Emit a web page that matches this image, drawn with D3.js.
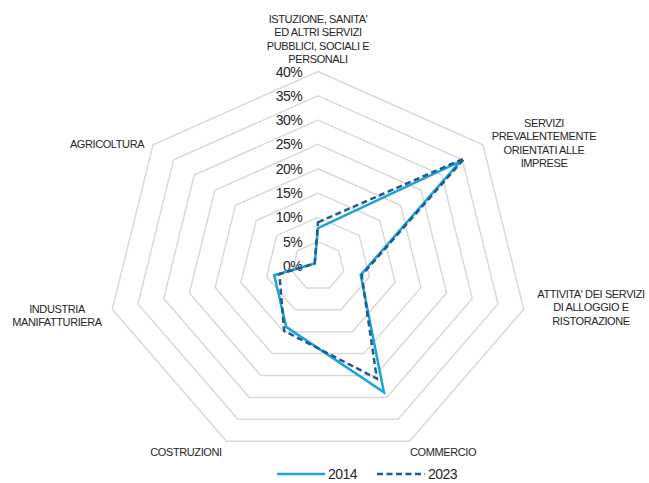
<!DOCTYPE html>
<html>
<head>
<meta charset="utf-8">
<script src="https://cdn.jsdelivr.net/npm/d3@7/dist/d3.min.js"></script>
<style>
  body { margin: 0; background: #fff; }
  svg text { font-family: "Liberation Sans", Arial, sans-serif; fill: #262626; }
</style>
</head>
<body>
<div id="chart"></div>
<script>
const categories = [
    ["ISTUZIONE, SANITA'", "ED ALTRI SERVIZI", "PUBBLICI, SOCIALI E", "PERSONALI"],
    ["SERVIZI", "PREVALENTEMENTE", "ORIENTATI ALLE", "IMPRESE"],
    ["ATTIVITA' DEI SERVIZI", "DI ALLOGGIO E", "RISTORAZIONE"],
    ["COMMERCIO"],
    ["COSTRUZIONI"],
    ["INDUSTRIA", "MANIFATTURIERA"],
    ["AGRICOLTURA"]
];
const values2014 = [7.8, 34.5, 8.3, 28.8, 13.9, 8.5, 0.8];
const values2023 = [9.0, 35.5, 8.5, 25.7, 14.8, 7.5, 0.8];
const ticks = [0, 5, 10, 15, 20, 25, 30, 35, 40];
const seriesNames = ["2014", "2023"];

const WIDTH = 649;
const HEIGHT = 483;
const CX = 318;
const CY = 266;
const RADIUS = 194.5;
const STRETCH_X = 1.085;

// label anchor points (centre of first line)
const labelPos = [
    [318, 19], [544, 123], [591, 294], [443, 452],
    [186, 452], [57, 309], [107, 144]
];

const svg = d3.select("#chart")
    .append("svg")
    .attr("width", WIDTH)
    .attr("height", HEIGHT);

const r = d3.scaleLinear().domain([0, 40]).range([0, RADIUS]);
const angle = d3.scaleLinear().domain([0, categories.length]).range([0, 2 * Math.PI]);

const px = (i, v) => CX + STRETCH_X * r(v) * Math.sin(angle(i));
const py = (i, v) => CY - r(v) * Math.cos(angle(i));

const idx = d3.range(categories.length);

// rings
const ring = d3.line()
    .x(d => px(d.i, d.v))
    .y(d => py(d.i, d.v))
    .curve(d3.curveLinearClosed);

svg.selectAll("path.ring")
    .data(ticks.slice(1))
    .enter()
    .append("path")
    .attr("class", "ring")
    .attr("d", t => ring(idx.map(i => ({i: i, v: t}))))
    .attr("fill", "none")
    .attr("stroke", "#d9d9d9")
    .attr("stroke-width", 1.5);

// tick labels
svg.selectAll("text.tick")
    .data(ticks)
    .enter()
    .append("text")
    .attr("class", "tick")
    .attr("x", CX - 16)
    .attr("y", t => CY - r(t) + 5)
    .attr("text-anchor", "end")
    .attr("font-size", 14)
    .attr("letter-spacing", -0.6)
    .text(t => t + "%");

// category labels
const lab = svg.selectAll("text.cat")
    .data(categories)
    .enter()
    .append("text")
    .attr("class", "cat")
    .attr("text-anchor", "middle")
    .attr("font-size", 11)
    .attr("letter-spacing", -0.4)
    .attr("transform", (d, i) => `translate(${labelPos[i][0]},${labelPos[i][1]})`);

lab.selectAll("tspan")
    .data(d => d)
    .enter()
    .append("tspan")
    .attr("x", 0)
    .attr("y", (d, j) => j * 13.4)
    .attr("dy", "0.35em")
    .text(d => d);

// series
const series = [
    {name: seriesNames[0], values: values2014, color: "#1ea2d9", dash: null},
    {name: seriesNames[1], values: values2023, color: "#1f5b8e", dash: "6,3.5"}
];

svg.selectAll("path.series")
    .data(series)
    .enter()
    .append("path")
    .attr("class", "series")
    .attr("d", s => ring(s.values.map((v, i) => ({i: i, v: v}))))
    .attr("fill", "none")
    .attr("stroke", s => s.color)
    .attr("stroke-width", 2.5)
    .attr("stroke-dasharray", s => s.dash)
    .attr("stroke-linejoin", "miter");

// legend
const legend = svg.selectAll("g.legend")
    .data(series)
    .enter()
    .append("g")
    .attr("class", "legend")
    .attr("transform", (d, i) => `translate(${277 + i * 100},474)`);

legend.append("line")
    .attr("x1", 0).attr("x2", 48)
    .attr("y1", 0).attr("y2", 0)
    .attr("stroke", d => d.color)
    .attr("stroke-width", 2.5)
    .attr("stroke-dasharray", d => d.dash);

legend.append("text")
    .attr("x", 51)
    .attr("y", 5)
    .attr("font-size", 14)
    .attr("letter-spacing", -0.5)
    .text(d => d.name);
</script>
</body>
</html>
